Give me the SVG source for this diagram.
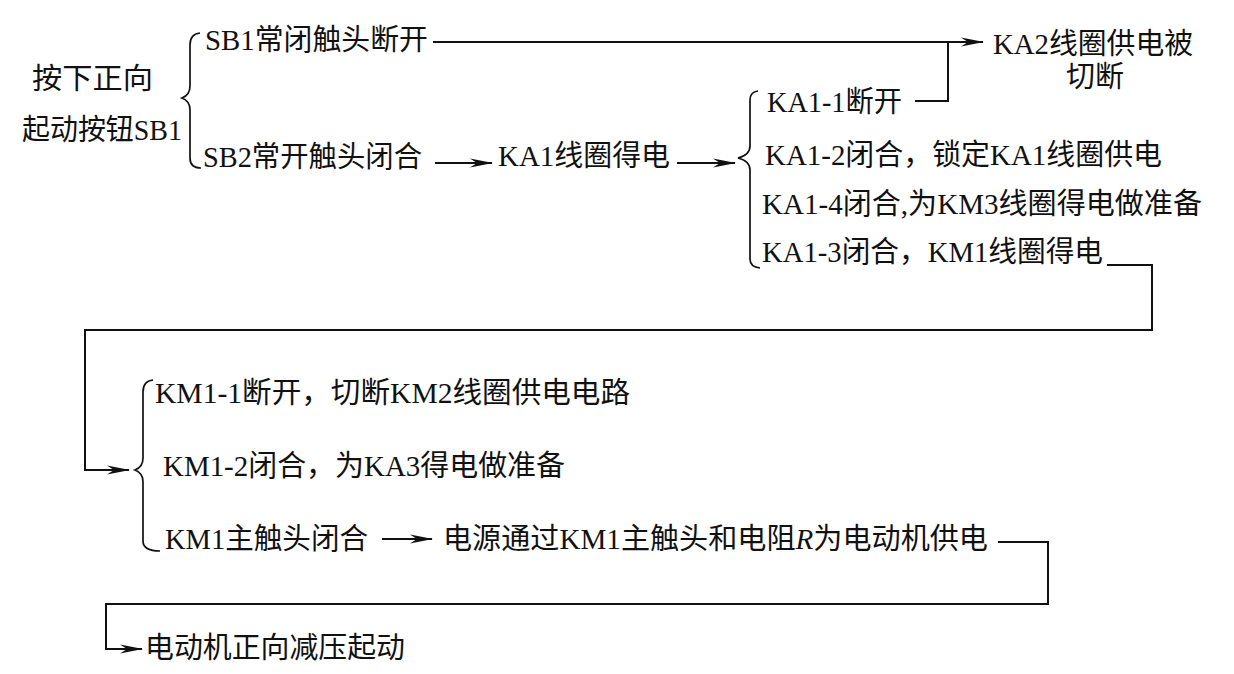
<svg xmlns="http://www.w3.org/2000/svg" width="1234" height="674" viewBox="0 0 1234 674">
<style>
  text { font-family: "Liberation Serif", "Noto Sans CJK SC", serif; font-size: 29px; fill: #111; }
  .ln { fill: none; stroke: #111; stroke-width: 2; }
  .br { fill: none; stroke: #111; stroke-width: 1.7; }
  .it { font-style: italic; }
</style>
<defs>
  <marker id="arr" viewBox="-24 -6 26 12" refX="0" refY="0" markerWidth="26" markerHeight="12" markerUnits="userSpaceOnUse" orient="auto">
    <path d="M1,0 L-22,-4.5 L-15,0 L-22,4.5 Z" fill="#111"/>
  </marker>
</defs>
<rect width="1234" height="674" fill="#fff"/>

<g id="connectors">
  <!-- braces -->
  <path class="br" d="M200,33 Q190,34 190,45 V86 Q190,95 182,98 Q190,101 190,110 V158 Q190,168 201,168"/>
  <path class="br" d="M758,91 Q750,92 750,100 V146 Q750,155 738,158 Q750,161 750,170 V259 Q750,267 760,268"/>
  <path class="br" d="M153,380 Q143,381 143,392 V458 Q143,467 135,470 Q143,473 143,482 V541 Q143,551 160,551"/>
  <!-- lines -->
  <path class="ln" d="M433,42 H983" marker-end="url(#arr)"/>
  <path class="ln" d="M915,101 H948 V42"/>
  <path class="ln" d="M435,163 H492" marker-end="url(#arr)"/>
  <path class="ln" d="M677,163 H735" marker-end="url(#arr)"/>
  <path class="ln" d="M1107,265 H1152 V330 H85 V470 H129" marker-end="url(#arr)"/>
  <path class="ln" d="M382,539 H432" marker-end="url(#arr)"/>
  <path class="ln" d="M998,542 H1048 V604 H106 V649 H142" marker-end="url(#arr)"/>
</g>

<g id="n-start">
  <text x="32" y="89" textLength="121" lengthAdjust="spacingAndGlyphs">按下正向</text>
  <text x="22" y="140" textLength="160" lengthAdjust="spacingAndGlyphs">起动按钮SB1</text>
</g>
<g id="n-sb1"><text x="205" y="50" textLength="223" lengthAdjust="spacingAndGlyphs">SB1常闭触头断开</text></g>
<g id="n-sb2"><text x="203" y="167" textLength="219" lengthAdjust="spacingAndGlyphs">SB2常开触头闭合</text></g>
<g id="n-ka1"><text x="498" y="166" textLength="172" lengthAdjust="spacingAndGlyphs">KA1线圈得电</text></g>
<g id="n-ka2">
  <text x="993" y="54" textLength="200" lengthAdjust="spacingAndGlyphs">KA2线圈供电被</text>
  <text x="1066" y="87">切断</text>
</g>
<g id="n-ka1-1"><text x="767" y="112" textLength="135" lengthAdjust="spacingAndGlyphs">KA1-1断开</text></g>
<g id="n-ka1-2"><text x="765" y="165" textLength="397" lengthAdjust="spacingAndGlyphs">KA1-2闭合，锁定KA1线圈供电</text></g>
<g id="n-ka1-4"><text x="762" y="214" textLength="440" lengthAdjust="spacingAndGlyphs">KA1-4闭合,为KM3线圈得电做准备</text></g>
<g id="n-ka1-3"><text x="762" y="262" textLength="341" lengthAdjust="spacingAndGlyphs">KA1-3闭合，KM1线圈得电</text></g>
<g id="n-km1-1"><text x="155" y="403" textLength="475" lengthAdjust="spacingAndGlyphs">KM1-1断开，切断KM2线圈供电电路</text></g>
<g id="n-km1-2"><text x="163" y="476" textLength="402" lengthAdjust="spacingAndGlyphs">KM1-2闭合，为KA3得电做准备</text></g>
<g id="n-km1-main"><text x="165" y="549" textLength="203" lengthAdjust="spacingAndGlyphs">KM1主触头闭合</text></g>
<g id="n-power"><text x="443" y="549" textLength="545" lengthAdjust="spacingAndGlyphs">电源通过KM1主触头和电阻<tspan class="it">R</tspan>为电动机供电</text></g>
<g id="n-motor"><text x="145" y="658" textLength="260" lengthAdjust="spacingAndGlyphs">电动机正向减压起动</text></g>
</svg>
